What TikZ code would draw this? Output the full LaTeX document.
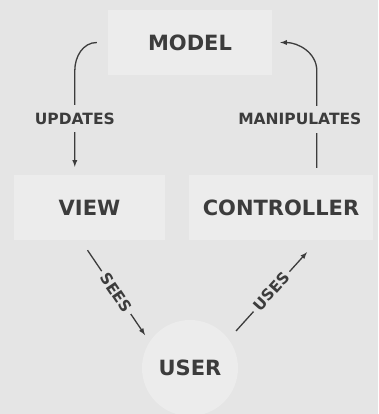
\documentclass[tikz,border=0pt]{standalone}
\usepackage{fontspec}
\setmainfont{DejaVu Sans}
\usetikzlibrary{calc}
\definecolor{bg}{HTML}{E5E5E5}
\definecolor{boxbg}{HTML}{ECECEC}
\definecolor{ink}{HTML}{3C3C3C}
\begin{document}
\begin{tikzpicture}[x=1pt, y=-1pt,
	part/.style={fill=boxbg, draw=none, minimum height=65pt, font=\fontsize{21}{21}\selectfont\bfseries, text=ink},
	flow/.style={-latex, line width=1.3pt, draw=ink},
	lbl/.style={fill=bg, inner xsep=2pt, inner ysep=7.5pt, font=\fontsize{15.5}{15.5}\selectfont\bfseries, text=ink}]
	\fill[bg] (0,0) rectangle (378,414);
	\useasboundingbox (0,0) rectangle (378,414);
	\node[part, minimum width=164pt] (model) at (190,42.5) {MODEL};
	\node[part, minimum width=151pt] (view) at (89.5,207.5) {VIEW};
	\node[part, minimum width=184pt] (controller) at (281,207.5) {CONTROLLER};
	\node[part, circle, minimum size=96pt, inner sep=0pt] (user) at (190,368) {USER};
	
	\draw[flow] ($(model.west)+(-11,0)$) to[out=180, in=90] ++(-22,28)
		-- node[lbl]{UPDATES} ($(view.north west)+(61,-8)$);
	\draw[flow] ($(controller.north west)+(128,-7)$) -- node[lbl, xshift=-17pt]{MANIPULATES} ++(0,-97)
		to[out=90, in=0] ($(model.east)+(8,0)$);
	\draw[flow] ($(view.south)+(-2,10)$) -- node[lbl, sloped, inner ysep=1pt, inner xsep=4pt]{SEES} ($(user.center)+(-45,-33)$);
	\draw[flow] ($(user.center)+(46,-37)$) -- node[lbl, sloped, inner ysep=1pt, inner xsep=4pt]{USES} ($(controller.south)+(26,12)$);
	
\end{tikzpicture}
\end{document}
